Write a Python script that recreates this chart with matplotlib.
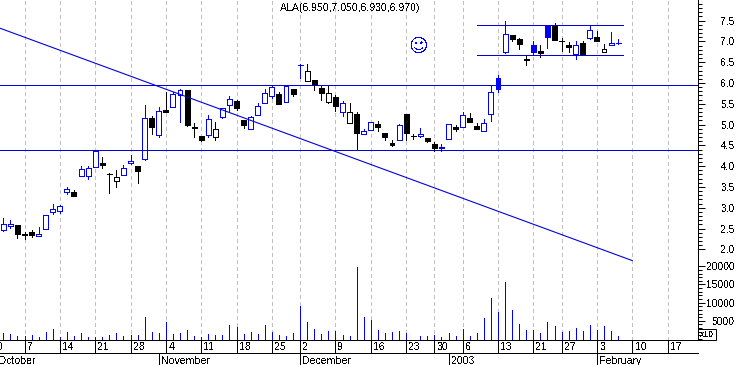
from matplotlib import pyplot as plt
import numpy as np

plt.rcParams["font.family"] = "Liberation Sans"
plt.rcParams["text.antialiased"] = False

# open, high, low, close per session, from the first bar in October to the last one
opens = [2.46, 2.56, 2.59, 2.36, 2.42, 2.33, 2.48, 2.91, 2.92, 3.38, 3.37, 3.77, 3.77, 3.99, 4.08, 3.82,
         3.64, 3.78, 4.08, 4.00, 4.18, 5.15, 4.76, 5.35, 5.42, 5.71, 5.83, 4.93, 4.72, 4.74, 4.70, 5.19,
         5.48, 5.56, 5.11, 4.89, 5.22, 5.53, 5.68, 5.74, 5.55, 5.85, 6.43, 6.04, 6.07, 5.88, 5.55, 5.66,
         5.31, 5.03, 5.25, 4.77, 4.86, 5.01, 4.79, 4.55, 4.62, 5.25, 4.73, 4.72, 4.67, 4.53, 4.44, 4.65,
         4.93, 4.95, 5.16, 4.97, 4.85, 5.26, 6.11, 6.75, 7.15, 7.06, 6.58, 6.91, 6.77, 7.39, 7.38, 7.02,
         6.91, 6.70, 6.96, 7.09, 7.11, 6.74, 6.92, 6.95]
highs = [2.75, 2.71, 2.59, 2.41, 2.47, 2.53, 2.82, 3.08, 3.06, 3.50, 3.43, 4.00, 4.00, 4.36, 4.21, 3.83,
         3.90, 4.02, 4.26, 4.00, 5.46, 5.20, 5.42, 5.78, 5.78, 5.85, 5.83, 5.03, 4.72, 5.23, 5.06, 5.41,
         5.69, 5.58, 5.11, 5.21, 5.51, 5.86, 5.94, 5.79, 5.95, 5.85, 6.45, 6.46, 6.07, 5.93, 5.93, 5.70,
         5.57, 5.52, 5.30, 4.89, 5.06, 5.09, 4.79, 4.63, 5.01, 5.25, 4.78, 4.91, 4.67, 4.59, 4.53, 5.02,
         4.98, 5.31, 5.28, 5.03, 5.13, 5.93, 6.19, 7.49, 7.15, 7.08, 6.67, 7.00, 6.91, 7.39, 7.44, 7.08,
         6.99, 7.00, 7.00, 7.39, 7.25, 6.94, 7.23, 7.05]
lows = [2.44, 2.52, 2.28, 2.24, 2.29, 2.33, 2.48, 2.86, 2.87, 3.34, 3.29, 3.76, 3.68, 3.98, 3.96, 3.36,
        3.51, 3.78, 4.06, 3.60, 4.16, 4.77, 4.71, 5.30, 5.42, 5.05, 4.97, 4.71, 4.61, 4.69, 4.64, 5.17,
        5.33, 5.35, 4.92, 4.89, 5.22, 5.53, 5.63, 5.50, 5.55, 5.69, 6.12, 6.04, 5.84, 5.59, 5.53, 5.33,
        5.21, 5.03, 4.41, 4.77, 4.86, 4.85, 4.63, 4.49, 4.62, 4.63, 4.66, 4.71, 4.58, 4.37, 4.36, 4.65,
        4.85, 4.95, 5.07, 4.89, 4.85, 5.09, 5.79, 6.73, 7.02, 6.82, 6.44, 6.70, 6.63, 6.84, 7.03, 6.77,
        6.75, 6.58, 6.67, 7.06, 7.02, 6.74, 6.92, 6.93]
closes = [2.60, 2.60, 2.36, 2.35, 2.34, 2.36, 2.82, 2.96, 3.04, 3.46, 3.29, 3.93, 3.95, 4.36, 4.02, 3.81,
          3.73, 3.95, 4.12, 3.88, 5.15, 4.93, 5.32, 5.30, 5.74, 5.82, 4.99, 4.92, 4.64, 5.13, 4.89, 5.41,
          5.61, 5.41, 5.00, 5.18, 5.44, 5.75, 5.90, 5.50, 5.93, 5.74, 6.44, 6.30, 5.95, 5.77, 5.75, 5.45,
          5.51, 5.30, 4.79, 4.84, 5.06, 4.93, 4.71, 4.51, 4.98, 4.80, 4.72, 4.77, 4.61, 4.44, 4.45, 5.02,
          4.90, 5.22, 5.07, 4.89, 5.03, 5.78, 5.86, 7.17, 7.06, 6.94, 6.55, 6.75, 6.73, 7.11, 7.03, 7.01,
          6.87, 6.91, 6.67, 7.27, 7.02, 6.81, 6.96, 6.97]
volumes = [1640, 1365, 820, 730, 1090, 550, 1910, 2730, 455, 1910, 820, 1640, 455, 455, 550, 1090,
           1640, 820, 1090, 1090, 6000, 1910, 1640, 4640, 1365, 1640, 2460, 820, 550, 1365, 1090, 1090,
           3820, 3280, 1365, 1910, 1365, 3820, 1910, 1090, 820, 1640, 9000, 4640, 2730, 1365, 2180, 2180,
           1090, 820, 19900, 6000, 5190, 2460, 1640, 1910, 2180, 1640, 0, 820, 820, 1090, 550, 1640,
           820, 2730, 820, 1640, 5730, 11200, 7370, 15560, 7900, 4100, 2460, 2460, 1640, 4640, 3550, 1910,
           2180, 3000, 2180, 3820, 2460, 3550, 2180, 820]

date_pos = [-2, 3, 8, 13, 18, 23, 28, 33, 38, 42, 47, 52, 57, 61, 65, 70, 75, 79, 84, 89, 94]
date_labels = ["30", "7", "14", "21", "28", "4", "11", "18", "25", "2", "9", "16", "23", "30", "6", "13",
               "21", "27", "3", "10", "17"]
month_pos = [-1, 22, 42, 63, 84]
month_labels = ["October", "November", "December", "2003", "February"]

trend_x = [-1, 89]
trend_y = [7.35, 1.73]
level_prices = [5.94, 4.40]
channel_x = [67.04, 87.7]
channel_prices = [7.39, 6.67]
title = "ALA(6.950,7.050,6.930,6.970)"

BLUE = "#0000ff"
LINE_BLUE = "#0000dd"
PX = 72 / 100  # one pixel in points

fig = plt.figure(figsize=(7.38, 3.65), dpi=100)
ax = fig.add_axes([0, 25 / 365, 698 / 738, 340 / 365])
ax2 = ax.twinx()

x = np.arange(len(closes))
ax.set_xlim(-0.467, 98.3)
ax.set_ylim(-0.179, 7.995)
ax2.set_ylim(-273, 93170)

# grid behind everything
for p in date_pos[1:]:
    ax.axvline(p, color="#c0c0c0", lw=PX, dashes=(4, 3), zorder=1, antialiased=False)

# candles: blue when the close is not below the previous one, hollow when close > open
for i in x:
    up = i == 0 or closes[i] >= closes[i - 1]
    col = BLUE if up else "black"
    hollow = closes[i] > opens[i]
    ax.vlines(i, lows[i], highs[i], color=col, lw=PX, zorder=2, antialiased=False)
    ax.bar(i, abs(closes[i] - opens[i]), bottom=min(opens[i], closes[i]), width=0.7,
           facecolor="white" if hollow else col, edgecolor=col, lw=PX, zorder=3, antialiased=False)

for p in level_prices:
    ax.axhline(p, color=LINE_BLUE, lw=PX, zorder=4, antialiased=False)
for p in channel_prices:
    ax.plot(channel_x, [p, p], color=LINE_BLUE, lw=PX, zorder=4, antialiased=False)
ax.plot(trend_x, trend_y, color=LINE_BLUE, lw=1.1 * PX, zorder=4)

ax2.vlines(x, 0, volumes, color=BLUE, lw=PX, antialiased=False)

# price and volume scales on the right
ax.yaxis.tick_right()
ax.set_yticks(np.arange(2.0, 7.51, 0.5))
ax.set_yticks(np.arange(2.0, 8.0, 0.1), minor=True)
ax.set_yticklabels(["%.1f" % v for v in np.arange(2.0, 7.51, 0.5)], fontsize=7.4, ha="right")
ax2.set_yticks([5000, 10000, 15000, 20000])
ax2.set_yticks(np.arange(0, 21000, 1000), minor=True)
ax2.set_yticklabels(["5000", "10000", "15000", "20000"], fontsize=7.4, ha="right")
for a in (ax, ax2):
    a.tick_params(axis="y", which="major", length=6.5 * PX, width=PX, pad=30.5 * PX, right=True)
    a.tick_params(axis="y", which="minor", length=3.5 * PX, width=PX, right=True)
    for s in ("top", "left"):
        a.spines[s].set_visible(False)
    a.spines["right"].set_linewidth(PX)
    a.spines["bottom"].set_linewidth(PX)

# date rows under the chart
ax.set_xticks([])
trans = ax.get_xaxis_transform()
row1 = -13 / 340
row2 = -25 / 340
ax.plot([0, 1], [row1, row1], color="black", lw=PX, transform=ax.transAxes, clip_on=False, antialiased=False)
for p, label in zip(date_pos, date_labels):
    ax.plot([p, p], [0, row1], color="black", lw=PX, transform=trans, clip_on=False, antialiased=False)
    ax.annotate(label, (p, -7 / 340), xycoords=trans, xytext=(2.5, 0), textcoords="offset pixels",
                fontsize=7.6, ha="left", va="center", annotation_clip=False)
for p, label in zip(month_pos, month_labels):
    ax.plot([p, p], [row1, row2], color="black", lw=PX, transform=trans, clip_on=False, antialiased=False)
    ax.annotate(label, (p, -20.5 / 340), xycoords=trans, xytext=(2.5, 0), textcoords="offset pixels",
                fontsize=7.6, ha="left", va="center", annotation_clip=False)

# little x10 box beside the axis
fig.add_artist(plt.Rectangle((698 / 738, 25 / 365), 17.5 / 738, 11 / 365, fill=False, ec="black", lw=PX))
fig.text(707 / 738, 30.5 / 365, "x10", fontsize=6.2, ha="center", va="center")

fig.text(280 / 738, 357 / 365, title, fontsize=7.6, ha="left", va="center")
ax.text(58.8, 6.87, "\u263a", color=BLUE, fontsize=13.5, family="DejaVu Sans", ha="center", va="center")

fig.savefig("out.png", dpi=100)
